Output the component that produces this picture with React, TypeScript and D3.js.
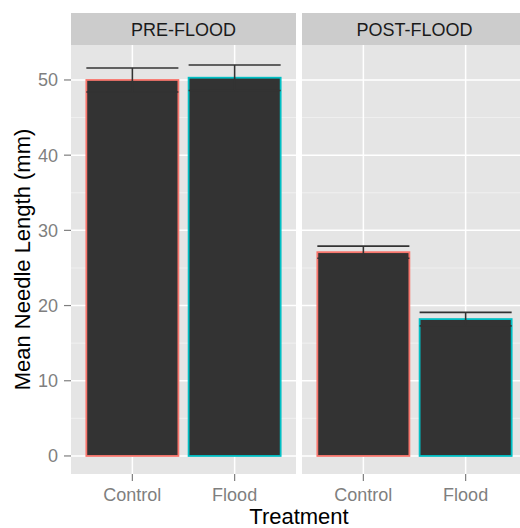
import React, { useEffect, useRef } from 'react';
import * as d3 from 'd3';

const facets = ['PRE-FLOOD', 'POST-FLOOD'];
const treatments = ['Control', 'Flood'];
const preMeans = [50.0, 50.3];
const preErr = [1.6, 1.7];
const postMeans = [27.1, 18.2];
const postErr = [0.8, 0.9];
const yTicks = [0, 10, 20, 30, 40, 50];
const yMinor = [5, 15, 25, 35, 45];

const WIDTH = 520;
const HEIGHT = 528;
const PANEL_TOP = 45;
const PANEL_BOTTOM = 474;
const STRIP_TOP = 13;
const PANELS_X = [
  [71, 296],
  [302, 527],
];

const FONT = '"Liberation Sans", Arial, sans-serif';
const TEXT_GREY = '#7f7f7f';
const OUTLINE = ['#F8766D', '#00BFC4'];
const SMALL = '18px';
const LARGE = '22px';

const App: React.FC = () => {
  const svgRef = useRef<SVGSVGElement>(null);

  useEffect(() => {
    if (!svgRef.current) return;
    const svg = d3.select(svgRef.current);
    svg.selectAll('*').remove();

    const y = d3.scaleLinear().domain([-2.4, 54.65]).range([PANEL_BOTTOM, PANEL_TOP]);

    const series = [
      { means: preMeans, err: preErr },
      { means: postMeans, err: postErr },
    ];

    facets.forEach((name, fi) => {
      const [x0, x1] = PANELS_X[fi];
      const x = d3.scalePoint<string>().domain(treatments).range([x0, x1]).padding(0.6);
      const barW = x.step() * 0.9;
      const g = svg.append('g');

      // strip
      g.append('rect')
        .attr('x', x0)
        .attr('y', STRIP_TOP)
        .attr('width', x1 - x0)
        .attr('height', PANEL_TOP - STRIP_TOP)
        .attr('fill', '#cccccc');
      g.append('text')
        .attr('x', (x0 + x1) / 2)
        .attr('y', 35.5)
        .attr('text-anchor', 'middle')
        .style('font-family', FONT)
        .style('font-size', SMALL)
        .style('fill', '#1a1a1a')
        .text(name);

      // panel background + grid
      g.append('rect')
        .attr('x', x0)
        .attr('y', PANEL_TOP)
        .attr('width', x1 - x0)
        .attr('height', PANEL_BOTTOM - PANEL_TOP)
        .attr('fill', '#e5e5e5');
      yMinor.forEach(v => {
        g.append('line')
          .attr('x1', x0)
          .attr('x2', x1)
          .attr('y1', y(v))
          .attr('y2', y(v))
          .attr('stroke', '#f2f2f2')
          .attr('stroke-width', 0.8);
      });
      yTicks.forEach(v => {
        g.append('line')
          .attr('x1', x0)
          .attr('x2', x1)
          .attr('y1', y(v))
          .attr('y2', y(v))
          .attr('stroke', '#ffffff')
          .attr('stroke-width', 1.5);
      });
      treatments.forEach(t => {
        g.append('line')
          .attr('x1', x(t)!)
          .attr('x2', x(t)!)
          .attr('y1', PANEL_TOP)
          .attr('y2', PANEL_BOTTOM)
          .attr('stroke', '#ffffff')
          .attr('stroke-width', 1.5);
      });

      // bars
      const s = series[fi];
      treatments.forEach((t, i) => {
        const cx = x(t)!;
        g.append('rect')
          .attr('x', cx - barW / 2)
          .attr('y', y(s.means[i]))
          .attr('width', barW)
          .attr('height', y(0) - y(s.means[i]))
          .attr('fill', '#333333')
          .attr('stroke', OUTLINE[i])
          .attr('stroke-width', 1.8);
      });

      // error bars
      treatments.forEach((t, i) => {
        const cx = x(t)!;
        const hi = y(s.means[i] + s.err[i]);
        const lo = y(s.means[i] - s.err[i]);
        const eb = g.append('g').attr('stroke', '#333333').attr('stroke-width', 1.6);
        eb.append('line').attr('x1', cx - barW / 2).attr('x2', cx + barW / 2).attr('y1', hi).attr('y2', hi);
        eb.append('line').attr('x1', cx - barW / 2).attr('x2', cx + barW / 2).attr('y1', lo).attr('y2', lo);
        eb.append('line').attr('x1', cx).attr('x2', cx).attr('y1', hi).attr('y2', lo);
      });

      // x axis
      treatments.forEach(t => {
        g.append('line')
          .attr('x1', x(t)!)
          .attr('x2', x(t)!)
          .attr('y1', PANEL_BOTTOM)
          .attr('y2', PANEL_BOTTOM + 7)
          .attr('stroke', TEXT_GREY)
          .attr('stroke-width', 1.2);
        g.append('text')
          .attr('x', x(t)!)
          .attr('y', 500.5)
          .attr('text-anchor', 'middle')
          .style('font-family', FONT)
          .style('font-size', SMALL)
          .style('fill', TEXT_GREY)
          .text(t);
      });
    });

    // y axis
    const x0 = PANELS_X[0][0];
    yTicks.forEach(v => {
      svg.append('line')
        .attr('x1', x0 - 7)
        .attr('x2', x0)
        .attr('y1', y(v))
        .attr('y2', y(v))
        .attr('stroke', TEXT_GREY)
        .attr('stroke-width', 1.2);
      svg.append('text')
        .attr('x', x0 - 13)
        .attr('y', y(v))
        .attr('dy', '0.36em')
        .attr('text-anchor', 'end')
        .style('font-family', FONT)
        .style('font-size', SMALL)
        .style('fill', TEXT_GREY)
        .text(String(v));
    });

    // axis titles
    svg.append('text')
      .attr('x', (PANELS_X[0][0] + PANELS_X[1][1]) / 2)
      .attr('y', 524)
      .attr('text-anchor', 'middle')
      .style('font-family', FONT)
      .style('font-size', LARGE)
      .style('fill', '#000')
      .text('Treatment');
    svg.append('text')
      .attr('transform', `translate(30,${(PANEL_TOP + PANEL_BOTTOM) / 2}) rotate(-90)`)
      .attr('text-anchor', 'middle')
      .style('font-family', FONT)
      .style('font-size', LARGE)
      .style('fill', '#000')
      .text('Mean Needle Length (mm)');
  }, []);

  return (
    <svg
      ref={svgRef}
      width={WIDTH}
      height={HEIGHT}
      style={{ position: 'absolute', left: 0, top: 0, background: '#fff' }}
    />
  );
};

export default App;
